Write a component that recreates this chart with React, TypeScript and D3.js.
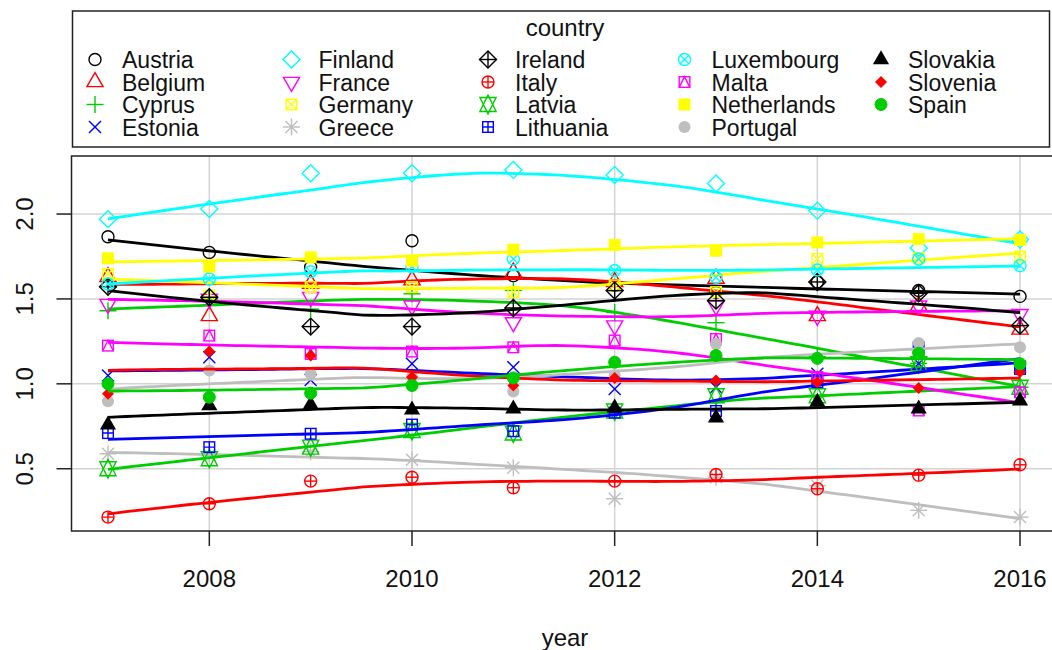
import React from 'react';
import * as d3 from 'd3';

const WIDTH = 1052;
const HEIGHT = 650;

const years = [2007, 2008, 2009, 2010, 2011, 2012, 2013, 2014, 2015, 2016];
const countries = [
  'Austria', 'Belgium', 'Cyprus', 'Estonia', 'Finland', 'France', 'Germany', 'Greece',
  'Ireland', 'Italy', 'Latvia', 'Lithuania', 'Luxembourg', 'Malta', 'Netherlands',
  'Portugal', 'Slovakia', 'Slovenia', 'Spain',
];

const austria = [1.866, 1.774, 1.686, 1.843, 1.637, 1.58, 1.54, 1.6, 1.55, 1.515];
const belgium = [1.63, 1.4, 1.59, 1.61, 1.657, 1.6, 1.62, 1.4, 1.46, 1.32];
const cyprus = [1.43, 1.5, 1.44, 1.53, 1.55, 1.42, 1.36, 1.16, 1.12, 0.98];
const estonia = [1.049, 1.157, 1.023, 1.118, 1.098, 0.97, 0.98, 1.059, 1.12, 1.1];
const finland = [1.97, 2.03, 2.24, 2.24, 2.26, 2.23, 2.18, 2.02, 1.8, 1.85];
const france = [1.47, 1.5, 1.51, 1.46, 1.362, 1.343, 1.46, 1.4, 1.46, 1.41];
const germany = [1.647, 1.52, 1.57, 1.57, 1.54, 1.58, 1.54, 1.735, 1.74, 1.749];
const greece = [0.588, 0.58, 0.6, 0.553, 0.506, 0.323, 0.45, 0.4, 0.255, 0.215];
const ireland = [1.572, 1.51, 1.337, 1.337, 1.447, 1.549, 1.49, 1.6, 1.533, 1.343];
const italy = [0.215, 0.294, 0.427, 0.45, 0.388, 0.427, 0.466, 0.382, 0.462, 0.523];
const latvia = [0.5, 0.559, 0.627, 0.725, 0.71, 0.84, 0.93, 0.93, 1.118, 0.98];
const lithuania = [0.71, 0.627, 0.706, 0.76, 0.721, 0.83, 0.84, 1.01, 1.215, 1.088];
const luxembourg = [1.588, 1.617, 1.66, 1.69, 1.735, 1.667, 1.627, 1.67, 1.735, 1.696];
const malta = [1.225, 1.284, 1.176, 1.19, 1.215, 1.255, 1.264, 1.04, 0.843, 0.95];
const netherlands = [1.739, 1.69, 1.745, 1.725, 1.79, 1.818, 1.784, 1.833, 1.853, 1.847];
const portugal = [0.898, 1.078, 1.06, 1.04, 0.955, 1.05, 1.235, 1.15, 1.24, 1.215];
const slovakia = [0.759, 0.872, 0.878, 0.847, 0.853, 0.859, 0.8, 0.892, 0.853, 0.9];
const slovenia = [0.941, 1.19, 1.167, 1.039, 0.99, 1.035, 1.02, 1.01, 0.976, 1.07];
const spain = [1.0, 0.921, 0.945, 0.99, 1.035, 1.127, 1.167, 1.15, 1.18, 1.118];

const seriesValues = [
  austria, belgium, cyprus, estonia, finland, france, germany, greece, ireland, italy,
  latvia, lithuania, luxembourg, malta, netherlands, portugal, slovakia, slovenia, spain,
];

const xTicks = [2008, 2010, 2012, 2014, 2016];
const yTicks = [0.5, 1.0, 1.5, 2.0];

// old R palette(), cycled by group
const palette = ['#000000', '#FF0000', '#00CD00', '#0000FF', '#00FFFF', '#FF00FF', '#FFFF00', '#BEBEBE'];

const PLOT = { left: 71.5, top: 156, right: 1056.5, bottom: 531 };
const FONT = '"Liberation Sans", Arial, sans-serif';

// robust local linear smoother (like loess, family = "symmetric")
function loessFit(xs: number[], ys: number[], evalX: number[], span = 2 / 3, iterations = 4) {
  const n = xs.length;
  const q = Math.floor(n * span);
  const fitAt = (x0: number, rob: number[]) => {
    const d = xs.map((x) => Math.abs(x - x0));
    const sorted = [...d].sort((a, b) => a - b);
    let h = q < n ? (sorted[q - 1] + sorted[q]) / 2 : sorted[n - 1];
    if (h <= 0) h = 1e-9;
    const w = d.map((di, i) => {
      const u = di / h;
      return u < 1 ? Math.pow(1 - u * u * u, 3) * rob[i] : 0;
    });
    const sw = d3.sum(w);
    if (sw <= 0) return d3.mean(ys) as number;
    const mx = d3.sum(xs.map((x, i) => w[i] * x)) / sw;
    const my = d3.sum(ys.map((y, i) => w[i] * y)) / sw;
    let sxx = 0, sxy = 0;
    xs.forEach((x, i) => {
      sxx += w[i] * (x - mx) * (x - mx);
      sxy += w[i] * (x - mx) * (ys[i] - my);
    });
    return sxx < 1e-12 ? my : my + (sxy / sxx) * (x0 - mx);
  };
  let rob = xs.map(() => 1);
  for (let it = 0; it < iterations - 1; it++) {
    const res = xs.map((x, i) => ys[i] - fitAt(x, rob));
    const cmad = 6 * (d3.median(res.map(Math.abs)) as number);
    if (cmad <= 0) break;
    rob = res.map((r) => {
      const a = Math.abs(r);
      if (a <= 0.001 * cmad) return 1;
      if (a > 0.999 * cmad) return 0;
      const t = r / cmad;
      return (1 - t * t) * (1 - t * t);
    });
  }
  return evalX.map((x) => [x, fitAt(x, rob)] as [number, number]);
}

const S = 6;
const SW = 1.4;

const Marker = ({ pch, x, y, color }: { pch: number; x: number; y: number; color: string }) => {
  const r3 = 1.555 * S, yc = 0.778 * S, xc2 = 1.347 * S;
  const sq = 0.886 * S;
  const r2 = Math.SQRT2 * S;
  const st = { stroke: color, strokeWidth: SW, fill: 'none' };
  const line = (x1: number, y1: number, x2: number, y2: number, k: string) => (
    <line key={k} x1={x1} y1={y1} x2={x2} y2={y2} {...st} />
  );
  const up = `${x},${y - r3} ${x + xc2},${y + yc} ${x - xc2},${y + yc}`;
  const down = `${x},${y + r3} ${x + xc2},${y - yc} ${x - xc2},${y - yc}`;
  const diamond = (h: number) => `${x - h},${y} ${x},${y - h} ${x + h},${y} ${x},${y + h}`;
  const square = <rect key="sq" x={x - sq} y={y - sq} width={2 * sq} height={2 * sq} {...st} />;
  const plus = (h: number) => [line(x - h, y, x + h, y, 'ph'), line(x, y - h, x, y + h, 'pv')];
  const cross = (h: number) => [line(x - h, y - h, x + h, y + h, 'c1'), line(x - h, y + h, x + h, y - h, 'c2')];
  switch (pch) {
    case 1: return <circle cx={x} cy={y} r={S} {...st} />;
    case 2: return <polygon points={up} {...st} />;
    case 3: return <g>{plus(r2)}</g>;
    case 4: return <g>{cross(S)}</g>;
    case 5: return <polygon points={diamond(r2)} {...st} />;
    case 6: return <polygon points={down} {...st} />;
    case 7: return <g>{square}{cross(sq)}</g>;
    case 8: return <g>{cross(S)}{plus(r2)}</g>;
    case 9: return <g><polygon points={diamond(r2)} {...st} />{plus(r2)}</g>;
    case 10: return <g><circle cx={x} cy={y} r={S} {...st} />{plus(S)}</g>;
    case 11: {
      const yc11 = 0.5 * (yc + r3);
      const a = `${x},${y - r3} ${x + xc2},${y + yc11} ${x - xc2},${y + yc11}`;
      const b = `${x},${y + r3} ${x + xc2},${y - yc11} ${x - xc2},${y - yc11}`;
      return <g><polygon points={a} {...st} /><polygon points={b} {...st} /></g>;
    }
    case 12: return <g>{square}{plus(sq)}</g>;
    case 13: return <g><circle cx={x} cy={y} r={S} {...st} />{cross(S * 0.72)}</g>;
    case 14:
      return (
        <g>
          {square}
          <polyline points={`${x - sq},${y + sq} ${x},${y - sq} ${x + sq},${y + sq}`} {...st} />
        </g>
      );
    case 15: return <rect x={x - S} y={y - S} width={2 * S} height={2 * S} fill={color} />;
    case 16: return <circle cx={x} cy={y} r={S} fill={color} />;
    case 17: return <polygon points={up} fill={color} />;
    case 18: return <polygon points={diamond(S)} fill={color} />;
    default: return <circle cx={x} cy={y} r={S} fill={color} stroke={color} strokeWidth={1} />;
  }
};

export default function App() {
  const all = seriesValues.flat();
  const yMin = d3.min(all) as number;
  const yMax = d3.max(all) as number;
  const yPad = (yMax - yMin) * 0.04;
  const xPad = (years[years.length - 1] - years[0]) * 0.04;

  const x = d3.scaleLinear().domain([years[0] - xPad, years[years.length - 1] + xPad]).range([PLOT.left, PLOT.right]);
  const y = d3.scaleLinear().domain([yMin - yPad, yMax + yPad]).range([PLOT.bottom, PLOT.top]);

  const grid = d3.range(0, 101).map((i) => years[0] + (i / 100) * (years[years.length - 1] - years[0]));
  const lineGen = d3.line<[number, number]>().x((d) => x(d[0])).y((d) => y(d[1]));

  return (
    <svg width={WIDTH} height={HEIGHT} style={{ position: 'absolute', left: 0, top: 0, background: '#fff' }} fontFamily={FONT}>
      <rect width={WIDTH} height={HEIGHT} fill="#fff" />
      <defs>
        <clipPath id="plot">
          <rect x={PLOT.left} y={PLOT.top} width={PLOT.right - PLOT.left} height={PLOT.bottom - PLOT.top} />
        </clipPath>
      </defs>

      {/* grid */}
      {xTicks.map((t) => (
        <line key={`gx${t}`} x1={x(t)} x2={x(t)} y1={PLOT.top} y2={PLOT.bottom} stroke="#D3D3D3" strokeWidth={1.5} />
      ))}
      {yTicks.map((t) => (
        <line key={`gy${t}`} x1={PLOT.left} x2={PLOT.right} y1={y(t)} y2={y(t)} stroke="#D3D3D3" strokeWidth={1.5} />
      ))}

      {/* series */}
      <g clipPath="url(#plot)">
        {seriesValues.map((vals, i) => {
          const color = palette[i % palette.length];
          const fit = loessFit(years, vals, grid);
          return (
            <g key={countries[i]}>
              {vals.map((v, j) => (
                <Marker key={j} pch={i + 1} x={x(years[j])} y={y(v)} color={color} />
              ))}
              <path d={lineGen(fit) || ''} fill="none" stroke={color} strokeWidth={2.8} />
            </g>
          );
        })}
      </g>

      {/* box */}
      <rect x={PLOT.left} y={PLOT.top} width={PLOT.right - PLOT.left} height={PLOT.bottom - PLOT.top} fill="none" stroke="#222" strokeWidth={1.5} />

      {/* axes */}
      {xTicks.map((t) => (
        <g key={`xt${t}`}>
          <line x1={x(t)} x2={x(t)} y1={PLOT.bottom} y2={PLOT.bottom + 15} stroke="#222" strokeWidth={1.5} />
          <text x={x(t)} y={587} textAnchor="middle" fontSize={24} fill="#111">{t}</text>
        </g>
      ))}
      {yTicks.map((t) => (
        <g key={`yt${t}`}>
          <line x1={PLOT.left - 15} x2={PLOT.left} y1={y(t)} y2={y(t)} stroke="#222" strokeWidth={1.5} />
          <text transform={`translate(33,${y(t)}) rotate(-90)`} textAnchor="middle" fontSize={24} fill="#111">{t.toFixed(1)}</text>
        </g>
      ))}
      <text x={565} y={646} textAnchor="middle" fontSize={24} fill="#111">year</text>

      {/* legend */}
      <rect x={72.5} y={11} width={977} height={136} fill="#fff" stroke="#222" strokeWidth={1.5} />
      <text x={565} y={36} textAnchor="middle" fontSize={24} fill="#111">country</text>
      {countries.map((c, i) => {
        const col = Math.floor(i / 4);
        const row = i % 4;
        const sx = 95 + col * 196.5;
        const by = 68 + row * 22.5;
        return (
          <g key={`lg${c}`}>
            <Marker pch={i + 1} x={sx} y={by - 8.5} color={palette[i % palette.length]} />
            <text x={sx + 27} y={by} fontSize={23} fill="#111">{c}</text>
          </g>
        );
      })}
    </svg>
  );
}
